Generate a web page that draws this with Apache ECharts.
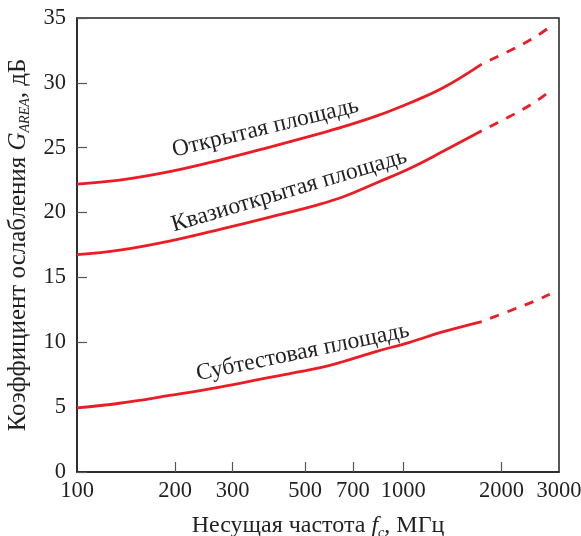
<!DOCTYPE html>
<html><head><meta charset="utf-8">
<script src="https://cdn.jsdelivr.net/npm/echarts@6/dist/echarts.min.js"></script>
<style>html,body{margin:0;padding:0;background:#fff;overflow:hidden}#c{width:581px;height:536px}</style>
</head><body><div id="c"></div>
<script>
// Data
const freqSolid = [100, 135, 192, 274, 390, 547, 652, 829, 1046, 1320, 1739];
const freqDash = [1739, 2210, 2540, 2810];
const openSolid = [22.2, 22.5, 23.15, 24.05, 25.05, 26.05, 26.6, 27.45, 28.45, 29.6, 31.45];
const openDash = [31.45, 32.7, 33.55, 34.3];
const quasiSolid = [16.75, 17.1, 17.8, 18.7, 19.65, 20.6, 21.2, 22.3, 23.4, 24.7, 26.3];
const quasiDash = [26.3, 27.65, 28.55, 29.35];
const subSolid = [4.95, 5.3, 5.9, 6.55, 7.3, 8.0, 8.5, 9.3, 10.0, 10.8, 11.6];
const subDash = [11.6, 12.6, 13.2, 13.7];
const xTickLabels = [100, 200, 300, 500, 700, 1000, 2000, 3000];
const xTicks = [200, 300, 500, 700, 1000, 2000];
const curveNames = ['Открытая площадь', 'Квазиоткрытая площадь', 'Субтестовая площадь'];

const RED = '#ec1c24';
const INK = '#231f20';
const FONT = '"Liberation Serif", "Times New Roman", serif';
const pairs = (xs, ys) => xs.map((x, i) => [x, ys[i]]);
function line(d, dashed) {
  return {
    type: 'line', data: d, smooth: 0.4, showSymbol: false, symbol: 'none',
    lineStyle: dashed
      ? { color: RED, width: 2.8, type: [9.5, 9], dashOffset: 9.5 }
      : { color: RED, width: 2.8, type: 'solid' },
    silent: true, animation: false
  };
}
function titleStyle(size) {
  return {
    color: INK, fontFamily: FONT, fontSize: size,
    rich: {
      i: { fontFamily: FONT, fontStyle: 'italic', fontSize: size, color: INK },
      sub: { fontFamily: FONT, fontStyle: 'italic', fontSize: 14, color: INK, padding: [14, 0, 0, 0] }
    }
  };
}

const chart = echarts.init(document.getElementById('c'), null, { renderer: 'canvas' });
chart.setOption({
  animation: false,
  grid: { left: 77, right: 22, top: 18, bottom: 64, show: true, borderColor: '#222', borderWidth: 1.5,
          backgroundColor: 'transparent', containLabel: false, outerBoundsMode: 'none' },
  xAxis: {
    type: 'log', logBase: 10, min: 100, max: 3000,
    axisLine: { lineStyle: { color: '#222', width: 1.5 } },
    axisTick: { inside: true, length: 10, customValues: xTicks, lineStyle: { color: '#555', width: 1.2 } },
    minorTick: { show: false },
    splitLine: { show: false },
    axisLabel: { customValues: xTickLabels, formatter: v => String(v), color: INK, fontFamily: FONT, fontSize: 22.5, margin: 8, hideOverlap: false },
    name: 'Несущая частота {i|f}{sub|c}, МГц',
    nameLocation: 'middle', nameGap: 40,
    nameTextStyle: titleStyle(24)
  },
  yAxis: {
    type: 'value', min: 0, max: 35, interval: 5,
    axisLine: { show: true, lineStyle: { color: '#222', width: 1.5 } },
    axisTick: { show: true, inside: true, length: 10, lineStyle: { color: '#555', width: 1.2 } },
    splitLine: { show: false },
    axisLabel: { color: INK, fontFamily: FONT, fontSize: 22.5, margin: 11 },
    name: 'Коэффициент ослабления {i|G}{sub|AREA}, дБ',
    nameLocation: 'middle', nameGap: 43, nameRotate: 90,
    nameTextStyle: titleStyle(25)
  },
  series: [
    line(pairs(freqSolid, openSolid), false), line(pairs(freqDash, openDash), true),
    line(pairs(freqSolid, quasiSolid), false), line(pairs(freqDash, quasiDash), true),
    line(pairs(freqSolid, subSolid), false), line(pairs(freqDash, subDash), true)
  ]
});

// Curve labels anchored in data coordinates
const labelAnchors = [
  { f: 378, v: 26.52, angle: 13.7 },
  { f: 447, v: 21.68, angle: 16.5 },
  { f: 492, v: 9.23, angle: 11.7 }
];
const graphics = labelAnchors.map((a, i) => {
  const p = chart.convertToPixel({ xAxisIndex: 0, yAxisIndex: 0 }, [a.f, a.v]);
  return {
    type: 'text', x: p[0], y: p[1], rotation: a.angle * Math.PI / 180, silent: true,
    style: { text: curveNames[i], fill: INK, font: '23.5px ' + FONT, textAlign: 'center', textVerticalAlign: 'middle' }
  };
});
chart.setOption({ graphic: graphics });
</script></body></html>
